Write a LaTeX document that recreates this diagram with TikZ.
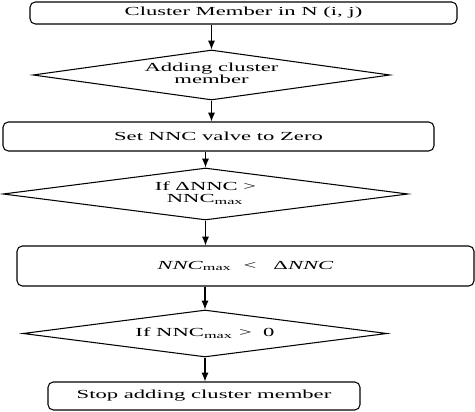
\documentclass[tikz,border=0pt]{standalone}
\usepackage{fontspec}
\setmainfont{Liberation Serif}
\usepackage{graphicx}
\usetikzlibrary{shapes.geometric}
\usetikzlibrary{arrows.meta}
\newcommand{\wide}[1]{\scalebox{1.84}[1]{#1}}
\newcommand{\twolines}[2]{\renewcommand{\arraystretch}{0.78}\begin{tabular}{@{}c@{}}#1\\#2\end{tabular}}
\tikzset{
	stepbox/.style={draw,rounded corners=3pt,inner sep=0pt},
	decision/.style={draw,diamond,aspect=7,inner sep=0pt},
	flow/.style={-{Latex[length=5pt,width=4pt]}}
}
\begin{document}
\begin{tikzpicture}[font=\fontsize{7pt}{8pt}\selectfont,line width=0.6pt]
		\useasboundingbox (0,0) rectangle (9.5,-8.24);
		\node[stepbox,minimum width=8.54cm,minimum height=0.44cm] (start) at (4.87,-0.26) {\wide{Cluster Member in N (i, j)}};
		\node[decision,minimum width=7.14cm,minimum height=1.0cm] (add) at (4.23,-1.5) {\wide{\twolines{Adding cluster}{member}}};
		\node[stepbox,minimum width=8.62cm,minimum height=0.58cm] (reset) at (4.37,-2.73) {\wide{Set NNC valve to Zero}};
		\node[decision,minimum width=8.1cm,minimum height=1.04cm] (cond1) at (4.11,-3.88) {\wide{\twolines{If ΔNNC >}{NNC\textsubscript{max}}}};
		\node[stepbox,minimum width=9.14cm,minimum height=0.8cm] (update) at (4.91,-5.32) {\wide{\textit{NNC}\textsubscript{max}\ \ <\ \ \ Δ\textit{NNC}}};
		\node[decision,minimum width=7.28cm,minimum height=0.94cm] (cond2) at (4.1,-6.67) {\wide{If NNC\textsubscript{max} >\ \ 0}};
		\node[stepbox,minimum width=6.24cm,minimum height=0.56cm] (stop) at (4.08,-7.92) {\wide{Stop adding cluster member}};
		\draw[flow] (add.north |- start.south) -- (add.north);
		\draw[flow] (add.south) -- (add.south |- reset.north);
		\draw[flow] (cond1.north |- reset.south) -- (cond1.north);
		\draw[flow] (cond1.south) -- (cond1.south |- update.north);
		\draw[flow] (cond2.north |- update.south) -- (cond2.north);
		\draw[flow] (cond2.south) -- (cond2.south |- stop.north);
	\end{tikzpicture}
\end{document}
